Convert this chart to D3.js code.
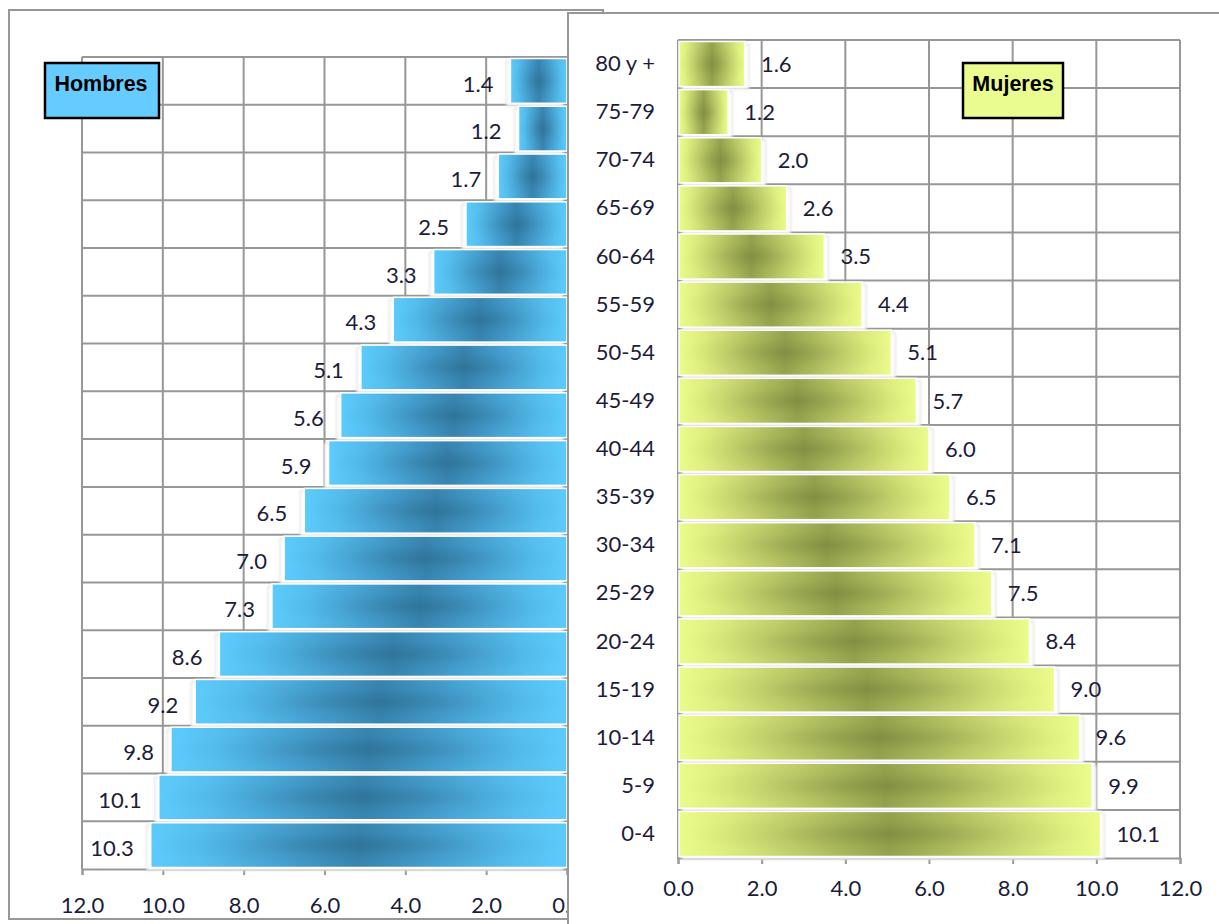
<!DOCTYPE html>
<html><head><meta charset="utf-8">
<script src="https://cdn.jsdelivr.net/npm/d3@7"></script>
<style>
html,body{margin:0;padding:0;background:#fff;}
svg{display:block;}
</style></head>
<body>
<script>
const categories = ["80 y +","75-79","70-74","65-69","60-64","55-59","50-54","45-49","40-44","35-39","30-34","25-29","20-24","15-19","10-14","5-9","0-4"];
const hombres = [1.4,1.2,1.7,2.5,3.3,4.3,5.1,5.6,5.9,6.5,7.0,7.3,8.6,9.2,9.8,10.1,10.3];
const mujeres = [1.6,1.2,2.0,2.6,3.5,4.4,5.1,5.7,6.0,6.5,7.1,7.5,8.4,9.0,9.6,9.9,10.1];
const xTicks = [0,2,4,6,8,10,12];
const tickLabels = ["0.0","2.0","4.0","6.0","8.0","10.0","12.0"];

const W = 1219, H = 924;
const grid = "#979797", txt = "#1c1c3a", numFont = "Lato, 'Open Sans', sans-serif", fs = 22;
const svg = d3.select("body").append("svg").attr("width", W).attr("height", H);
const defs = svg.append("defs");

function grad(id, light, near, q, mid, dark){
  const g = defs.append("linearGradient").attr("id", id).attr("x1","0").attr("x2","1").attr("y1","0").attr("y2","0");
  [[0,light],[0.12,near],[0.3,q],[0.5,mid],[0.7,q],[0.88,near],[1,light]].forEach(([o,c])=>g.append("stop").attr("offset",o).attr("stop-color",c));
  const r = defs.append("radialGradient").attr("id", id+"R").attr("cx",0.5).attr("cy",0.5).attr("r",0.5);
  r.append("stop").attr("offset",0).attr("stop-color",dark).attr("stop-opacity",0.35);
  r.append("stop").attr("offset",0.6).attr("stop-color",dark).attr("stop-opacity",0.08);
  r.append("stop").attr("offset",1).attr("stop-color",dark).attr("stop-opacity",0);
}
grad("gBlue", "#5CCBFB", "#55BFEF", "#47A3D3", "#3885AF", "#1E5575");
grad("gGreen", "#EBFC8B", "#DCEB7D", "#BCCA68", "#95A34F", "#5F6A26");
const blur = defs.append("filter").attr("id","soft").attr("x","-10%").attr("y","-10%").attr("width","120%").attr("height","130%");
blur.append("feGaussianBlur").attr("stdDeviation",0.9);

// ---------- LEFT PANEL ----------
svg.append("rect").attr("x",9).attr("y",10).attr("width",594).attr("height",909)
  .attr("fill","#fff").attr("stroke",grid).attr("stroke-width",2);

const xL = d3.scaleLinear().domain([12,0]).range([82,567]);
const yL = d3.scaleBand().domain(categories).range([57,869]).padding(0);
const gL = svg.append("g");

gL.selectAll(".vg").data(xTicks).join("line")
  .attr("x1",d=>xL(d)).attr("x2",d=>xL(d)).attr("y1",57).attr("y2",869)
  .attr("stroke",grid).attr("stroke-width",2);
gL.selectAll(".hg").data(categories).join("line")
  .attr("x1",82).attr("x2",567).attr("y1",d=>yL(d)).attr("y2",d=>yL(d))
  .attr("stroke",grid).attr("stroke-width",2);

const axL = d3.axisBottom(xL).tickValues(xTicks).tickSize(6).tickPadding(22)
  .tickFormat(d=>tickLabels[xTicks.indexOf(d)]);
const axLg = gL.append("g").attr("transform","translate(0,869)").call(axL);
axLg.select(".domain").attr("stroke",grid).attr("stroke-width",2);
axLg.selectAll(".tick line").attr("stroke",grid).attr("stroke-width",2);
axLg.selectAll(".tick text").attr("fill",txt).attr("font-family",numFont).attr("font-size",fs);

const bw = yL.bandwidth();
gL.selectAll(".sh").data(hombres).join("rect")
  .attr("x",d=>xL(d)-4).attr("y",(d,i)=>yL(categories[i])+4)
  .attr("width",d=>xL(0)-xL(d)).attr("height",bw-3)
  .attr("fill","#fff").attr("stroke","#d6d6d6").attr("stroke-width",1).attr("filter","url(#soft)");
gL.selectAll(".bar").data(hombres).join("rect")
  .attr("x",d=>xL(d)).attr("y",(d,i)=>yL(categories[i])+1.5)
  .attr("width",d=>xL(0)-xL(d)).attr("height",bw-3)
  .attr("fill","url(#gBlue)").attr("stroke","#fff").attr("stroke-width",1.5);
gL.selectAll(".barR").data(hombres).join("rect")
  .attr("x",d=>xL(d)+1).attr("y",(d,i)=>yL(categories[i])+2.5)
  .attr("width",d=>xL(0)-xL(d)-2).attr("height",bw-5)
  .attr("fill","url(#gBlueR)");
gL.selectAll(".lbl").data(hombres).join("text")
  .attr("x",d=>xL(d)-17).attr("y",(d,i)=>yL(categories[i])+bw/2+3)
  .attr("dy","0.35em").attr("text-anchor","end")
  .attr("fill",txt).attr("font-family",numFont).attr("font-size",fs)
  .text(d=>d.toFixed(1));

svg.append("rect").attr("x",45).attr("y",63).attr("width",114).attr("height",55)
  .attr("fill","#66CCFF").attr("stroke","#000").attr("stroke-width",2.5);
svg.append("text").attr("x",101).attr("y",91).attr("text-anchor","middle")
  .attr("font-family","'Liberation Sans', Arial, sans-serif").attr("font-weight","bold").attr("font-size",21.5)
  .attr("fill","#000").text("Hombres");

// ---------- RIGHT PANEL ----------
svg.append("rect").attr("x",568).attr("y",13).attr("width",700).attr("height",960)
  .attr("fill","#fff").attr("stroke",grid).attr("stroke-width",2);

const xR = d3.scaleLinear().domain([0,12]).range([678,1180]);
const yR = d3.scaleBand().domain(categories).range([40,858]).padding(0);
const gR = svg.append("g");
gR.selectAll(".vg").data(xTicks).join("line")
  .attr("x1",d=>xR(d)).attr("x2",d=>xR(d)).attr("y1",40).attr("y2",858)
  .attr("stroke",grid).attr("stroke-width",2);
gR.selectAll(".hg").data(categories).join("line")
  .attr("x1",678).attr("x2",1180).attr("y1",d=>yR(d)).attr("y2",d=>yR(d))
  .attr("stroke",grid).attr("stroke-width",2);

const axR = d3.axisBottom(xR).tickValues(xTicks).tickSize(6).tickPadding(16)
  .tickFormat(d=>tickLabels[xTicks.indexOf(d)]);
const axRg = gR.append("g").attr("transform","translate(0,858)").call(axR);
axRg.select(".domain").attr("stroke",grid).attr("stroke-width",2);
axRg.selectAll(".tick line").attr("stroke",grid).attr("stroke-width",2);
axRg.selectAll(".tick text").attr("fill",txt).attr("font-family",numFont).attr("font-size",fs);

const axY = d3.axisLeft(yR).tickSize(0).tickPadding(23);
const axYg = gR.append("g").attr("transform","translate(678,0)").call(axY);
axYg.select(".domain").attr("stroke",grid).attr("stroke-width",2);
axYg.selectAll(".tick text").attr("fill",txt).attr("font-family",numFont).attr("font-size",fs);

const bw2 = yR.bandwidth();
gR.selectAll(".sh").data(mujeres).join("rect")
  .attr("x",xR(0)+4).attr("y",(d,i)=>yR(categories[i])+4)
  .attr("width",d=>xR(d)-xR(0)).attr("height",bw2-3)
  .attr("fill","#fff").attr("stroke","#d6d6d6").attr("stroke-width",1).attr("filter","url(#soft)");
gR.selectAll(".bar").data(mujeres).join("rect")
  .attr("x",xR(0)+1).attr("y",(d,i)=>yR(categories[i])+1.5)
  .attr("width",d=>xR(d)-xR(0)-1).attr("height",bw2-3)
  .attr("fill","url(#gGreen)").attr("stroke","#fff").attr("stroke-width",1.5);
gR.selectAll(".barR").data(mujeres).join("rect")
  .attr("x",xR(0)+2).attr("y",(d,i)=>yR(categories[i])+2.5)
  .attr("width",d=>xR(d)-xR(0)-3).attr("height",bw2-5)
  .attr("fill","url(#gGreenR)");
gR.selectAll(".lbl").data(mujeres).join("text")
  .attr("x",d=>xR(d)+16).attr("y",(d,i)=>yR(categories[i])+bw2/2)
  .attr("dy","0.35em").attr("text-anchor","start")
  .attr("fill",txt).attr("font-family",numFont).attr("font-size",fs)
  .text(d=>d.toFixed(1));

svg.append("rect").attr("x",963).attr("y",63).attr("width",100).attr("height",55)
  .attr("fill","#EAFB8F").attr("stroke","#000").attr("stroke-width",2.5);
svg.append("text").attr("x",1013).attr("y",91).attr("text-anchor","middle")
  .attr("font-family","'Liberation Sans', Arial, sans-serif").attr("font-weight","bold").attr("font-size",21.5)
  .attr("fill","#000").text("Mujeres");
</script>
</body></html>
